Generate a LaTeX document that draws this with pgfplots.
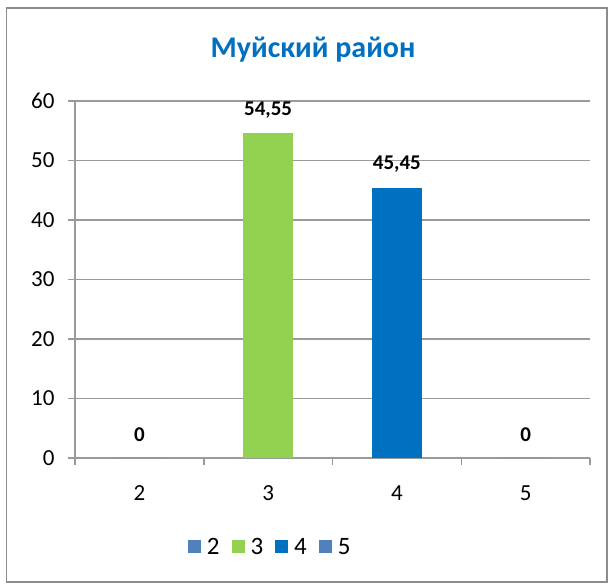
\documentclass[border=0pt]{standalone}
\usepackage{fontspec}
\setmainfont{Carlito}
\usepackage{pgfplots}
\pgfplotsset{compat=1.18}

\definecolor{catA}{HTML}{4F81BD}
\definecolor{catB}{HTML}{92D050}
\definecolor{catC}{HTML}{0070C0}
\definecolor{gridgray}{HTML}{9A9A9A}
\definecolor{framegray}{HTML}{8C8C8C}

\begin{document}
\begin{tikzpicture}[x=1pt,y=1pt]
\useasboundingbox (0,0) rectangle (613,585);
\draw[framegray, line width=1.5pt] (6.5,3) rectangle (607,577);

\node[font=\fontsize{30}{36}\selectfont\bfseries, text=catC] at (313,535) {Муйский район};

\begin{axis}[
  at={(75pt,127pt)}, anchor=south west,
  scale only axis,
  width=515pt, height=357pt,
  xmin=-0.5, xmax=3.5,
  ymin=0, ymax=60,
  ytick={0,10,...,60},
  xtick={0,1,2,3},
  xticklabels={2,3,4,5},
  minor xtick={-0.5,0.5,1.5,2.5,3.5},
  axis x line*=bottom, axis y line*=left,
  axis line style={gridgray, line width=1.5pt},
  ymajorgrids,
  grid style={gridgray, line width=1.5pt},
  tick align=outside,
  major tick length=7pt, minor tick length=7pt,
  major x tick style={draw=none},
  minor x tick style={gridgray, line width=1.5pt},
  ytick style={gridgray, line width=1.5pt},
  tick label style={font=\fontsize{23}{27}\selectfont},
  /pgf/number format/assume math mode=true,
  yticklabel style={anchor=east, xshift=-10pt},
  xticklabel style={anchor=center, yshift=-28pt},
  ybar, bar width=50pt, bar shift=0pt,
  nodes near coords,
  nodes near coords style={font=\fontsize{21}{25}\selectfont\bfseries, anchor=center, yshift=23pt,
    /pgf/number format/.cd, fixed, precision=2, use comma},
  legend columns=4,
  legend style={at={(0.379,-0.249)}, anchor=center, draw=none, fill=none,
    font=\fontsize{25}{29}\selectfont,
    /tikz/every odd column/.append style={column sep=4pt},
    /tikz/every even column/.append style={column sep=10pt}},
  legend image code/.code={\fill[#1] (0pt,-6.5pt) rectangle (13pt,6.5pt);},
]
\addplot[fill=catA, draw=none] coordinates {(0,0)};
\addplot[fill=catB, draw=none] coordinates {(1,54.55)};
\addplot[fill=catC, draw=none] coordinates {(2,45.45)};
\addplot[fill=catA, draw=none] coordinates {(3,0)};
\legend{2,3,4,5}
\end{axis}
\end{tikzpicture}
\end{document}
